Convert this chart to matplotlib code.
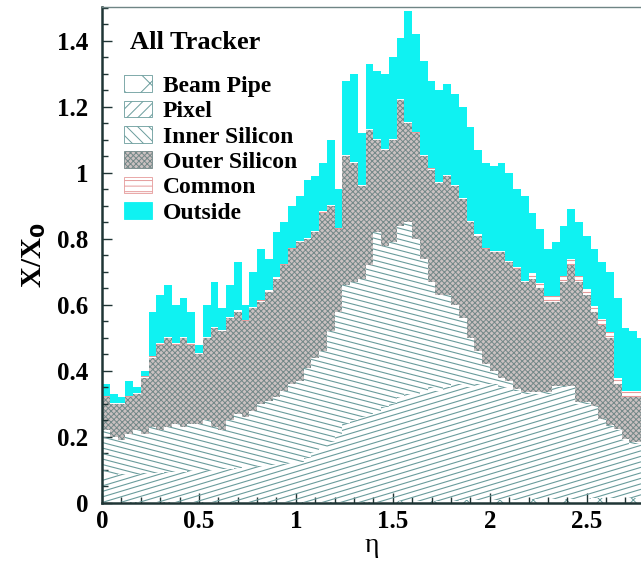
import numpy as np
import matplotlib.pyplot as plt
from matplotlib.collections import LineCollection
from matplotlib.patches import Patch
from matplotlib.ticker import MultipleLocator, FormatStrFormatter

plt.rcParams['font.family'] = ['Liberation Serif', 'DejaVu Serif']
plt.rcParams['hatch.linewidth'] = 0.7

# eta bins, 0.04 wide
eta_edges = np.linspace(0, 2.8, 71)

# cumulative X/X0 levels (top edge of each layer)
beampipe_top = [0.002] * 20 + [0.003] * 15 + [0.004, 0.004, 0.005, 0.005, 0.005, 0.006, 0.006, 0.006,
                0.007, 0.007, 0.007, 0.008, 0.008, 0.008, 0.009] + [0.009, 0.010, 0.010, 0.010, 0.011,
                0.011, 0.011, 0.012, 0.012, 0.012, 0.013, 0.013, 0.013, 0.014, 0.014, 0.014, 0.015,
                0.015, 0.015, 0.016]

pixel_top = [0.085, 0.086, 0.087, 0.088, 0.089, 0.090, 0.091, 0.092, 0.093, 0.094,
             0.095, 0.097, 0.098, 0.100, 0.100, 0.102, 0.104, 0.106, 0.108, 0.110,
             0.112, 0.114, 0.116, 0.118, 0.120, 0.125, 0.135, 0.150, 0.165, 0.185,
             0.210, 0.240, 0.250, 0.260, 0.270, 0.280, 0.290, 0.300, 0.320, 0.330,
             0.330, 0.340, 0.350, 0.340, 0.350, 0.360, 0.360, 0.350, 0.360, 0.360,
             0.360, 0.350, 0.350, 0.340, 0.330, 0.330, 0.330, 0.330, 0.350, 0.350,
             0.350, 0.300, 0.300, 0.290, 0.250, 0.230, 0.220, 0.190, 0.180, 0.180]

inner_top = [0.220, 0.200, 0.190, 0.210, 0.220, 0.210, 0.230, 0.220, 0.230, 0.240,
             0.230, 0.240, 0.240, 0.250, 0.230, 0.220, 0.250, 0.270, 0.260, 0.280,
             0.300, 0.310, 0.320, 0.340, 0.360, 0.370, 0.410, 0.440, 0.460, 0.520,
             0.580, 0.660, 0.670, 0.680, 0.720, 0.820, 0.780, 0.790, 0.840, 0.850,
             0.800, 0.740, 0.670, 0.630, 0.630, 0.600, 0.560, 0.500, 0.460, 0.420,
             0.400, 0.380, 0.370, 0.345, 0.335, 0.335, 0.335, 0.335, 0.355, 0.355,
             0.355, 0.305, 0.305, 0.295, 0.255, 0.235, 0.225, 0.195, 0.185, 0.185]

outer_top = [0.32, 0.30, 0.30, 0.32, 0.33, 0.38, 0.44, 0.48, 0.50, 0.48,
             0.50, 0.48, 0.45, 0.50, 0.53, 0.52, 0.56, 0.58, 0.55, 0.59,
             0.61, 0.64, 0.68, 0.72, 0.77, 0.79, 0.80, 0.82, 0.88, 0.90,
             0.83, 1.05, 1.03, 0.96, 1.13, 1.10, 1.07, 1.10, 1.22, 1.15,
             1.12, 1.05, 1.01, 0.97, 0.99, 0.96, 0.92, 0.85, 0.81, 0.77,
             0.76, 0.76, 0.73, 0.71, 0.67, 0.68, 0.65, 0.61, 0.61, 0.67,
             0.72, 0.67, 0.63, 0.58, 0.54, 0.50, 0.36, 0.32, 0.32, 0.32]

common_top = [0.324, 0.304, 0.304, 0.324, 0.334, 0.384, 0.444, 0.484, 0.504, 0.484,
              0.504, 0.484, 0.454, 0.504, 0.534, 0.524, 0.564, 0.584, 0.554, 0.594,
              0.614, 0.644, 0.684, 0.724, 0.774, 0.794, 0.804, 0.824, 0.884, 0.904,
              0.834, 1.054, 1.034, 0.964, 1.134, 1.104, 1.074, 1.104, 1.224, 1.154,
              1.124, 1.054, 1.014, 0.974, 0.994, 0.964, 0.924, 0.854, 0.814, 0.774,
              0.764, 0.764, 0.734, 0.714, 0.674, 0.698, 0.668, 0.628, 0.628, 0.688,
              0.738, 0.688, 0.648, 0.598, 0.558, 0.518, 0.378, 0.338, 0.338, 0.338]

total = [0.36, 0.33, 0.32, 0.37, 0.35, 0.40, 0.58, 0.63, 0.66, 0.60,
         0.62, 0.58, 0.48, 0.60, 0.67, 0.59, 0.66, 0.73, 0.60, 0.70,
         0.77, 0.74, 0.82, 0.85, 0.90, 0.93, 0.98, 0.99, 1.03, 1.10,
         0.95, 1.28, 1.30, 1.12, 1.33, 1.31, 1.30, 1.35, 1.41, 1.49,
         1.42, 1.34, 1.28, 1.25, 1.27, 1.24, 1.20, 1.14, 1.07, 1.03,
         1.02, 1.03, 1.00, 0.95, 0.93, 0.88, 0.83, 0.77, 0.79, 0.84,
         0.89, 0.85, 0.81, 0.77, 0.73, 0.70, 0.62, 0.53, 0.52, 0.50]

labels = ['Beam Pipe', 'Pixel', 'Inner Silicon', 'Outer Silicon', 'Common', 'Outside']

line_col = '#6a9c9c'
axis_col = '#1f3535'
cyan = '#0ff2f2'
grey_face = '#cbc1c1'
grey_hatch = '#738888'

fig = plt.figure(figsize=(6.41, 5.61), dpi=100)
ax = fig.add_axes([102 / 641, 58 / 561, 539 / 641, 496 / 561])


def shallow_hatch(patch, slope, step, color, lw=0.8):
    # parallel lines in pixel units of the axes box, clipped to the patch
    w, h = 539.0, 496.0
    k = slope * w / h
    starts = np.arange(-abs(k) - 0.05, 1 + abs(k) + 0.05, step / h)
    segs = [[(0, b), (1, b + k)] for b in starts]
    lc = LineCollection(segs, colors=color, linewidths=lw, transform=ax.transAxes)
    ax.add_collection(lc, autolim=False)
    lc.set_clip_path(patch)


zero = np.zeros(70)
bp = ax.stairs(beampipe_top, eta_edges, baseline=zero, fill=True,
               facecolor='white', edgecolor=line_col, hatch='x', lw=0)
px = ax.stairs(pixel_top, eta_edges, baseline=beampipe_top, fill=True,
               facecolor='white', lw=0)
shallow_hatch(px, 0.30, 5.5, line_col)
inn = ax.stairs(inner_top, eta_edges, baseline=pixel_top, fill=True,
                facecolor='white', lw=0)
shallow_hatch(inn, -0.26, 5.5, line_col)
ax.stairs(outer_top, eta_edges, baseline=inner_top, fill=True,
          facecolor=grey_face, edgecolor=grey_hatch, hatch='xxxxxx', lw=0)
cm = ax.stairs(common_top, eta_edges, baseline=outer_top, fill=True,
               facecolor='white', lw=0)
shallow_hatch(cm, 0.0, 4.0, '#e59a9a', lw=0.8)
ax.stairs(total, eta_edges, baseline=common_top, fill=True,
          facecolor=cyan, lw=0)

ax.set_xlim(0, 2.78)
ax.set_ylim(0, 1.503)

for s in ['left', 'bottom']:
    ax.spines[s].set_linewidth(1.8)
    ax.spines[s].set_color(axis_col)
ax.spines['top'].set_linewidth(1.0)
ax.spines['top'].set_color('#6f8585')
ax.spines['right'].set_visible(False)

ax.xaxis.set_major_locator(MultipleLocator(0.5))
ax.xaxis.set_minor_locator(MultipleLocator(0.1))
ax.yaxis.set_major_locator(MultipleLocator(0.2))
ax.yaxis.set_minor_locator(MultipleLocator(0.05))
ax.xaxis.set_major_formatter(FormatStrFormatter('%g'))
ax.yaxis.set_major_formatter(FormatStrFormatter('%g'))
ax.tick_params(which='both', direction='in', color=axis_col, width=1,
               labelsize=18, top=False, right=False)
ax.tick_params(which='major', length=7)
ax.tick_params(which='minor', length=4)
ax.tick_params(axis='y', pad=10)
ax.tick_params(axis='x', pad=5)
for t in ax.get_xticklabels() + ax.get_yticklabels():
    t.set_fontweight('bold')

ax.set_xlabel('η', fontsize=20, labelpad=0)
ax.set_ylabel('X/X$_\\mathbf{0}$', fontsize=21, fontweight='bold', labelpad=6)

ax.text(0.052, 0.928, 'All Tracker', transform=ax.transAxes, fontsize=19,
        fontweight='bold', va='center', ha='left')

handles = [
    Patch(facecolor='white', edgecolor=line_col, hatch='x', lw=0.6),
    Patch(facecolor='white', edgecolor=line_col, hatch='///', lw=0.6),
    Patch(facecolor='white', edgecolor=line_col, hatch='\\\\\\', lw=0.6),
    Patch(facecolor=grey_face, edgecolor=grey_hatch, hatch='xxxxxx', lw=0.6),
    Patch(facecolor='white', edgecolor='#e59a9a', hatch='---', lw=0.6),
    Patch(facecolor=cyan, edgecolor=cyan, lw=0.6),
]
ax.legend(handles, labels, loc='upper left', bbox_to_anchor=(0.04, 0.862),
          frameon=False, prop={'weight': 'bold', 'size': 17},
          handlelength=1.2, handleheight=0.7, handletextpad=0.45,
          labelspacing=0.16, borderpad=0, borderaxespad=0)

fig.savefig('out.png', dpi=100)
